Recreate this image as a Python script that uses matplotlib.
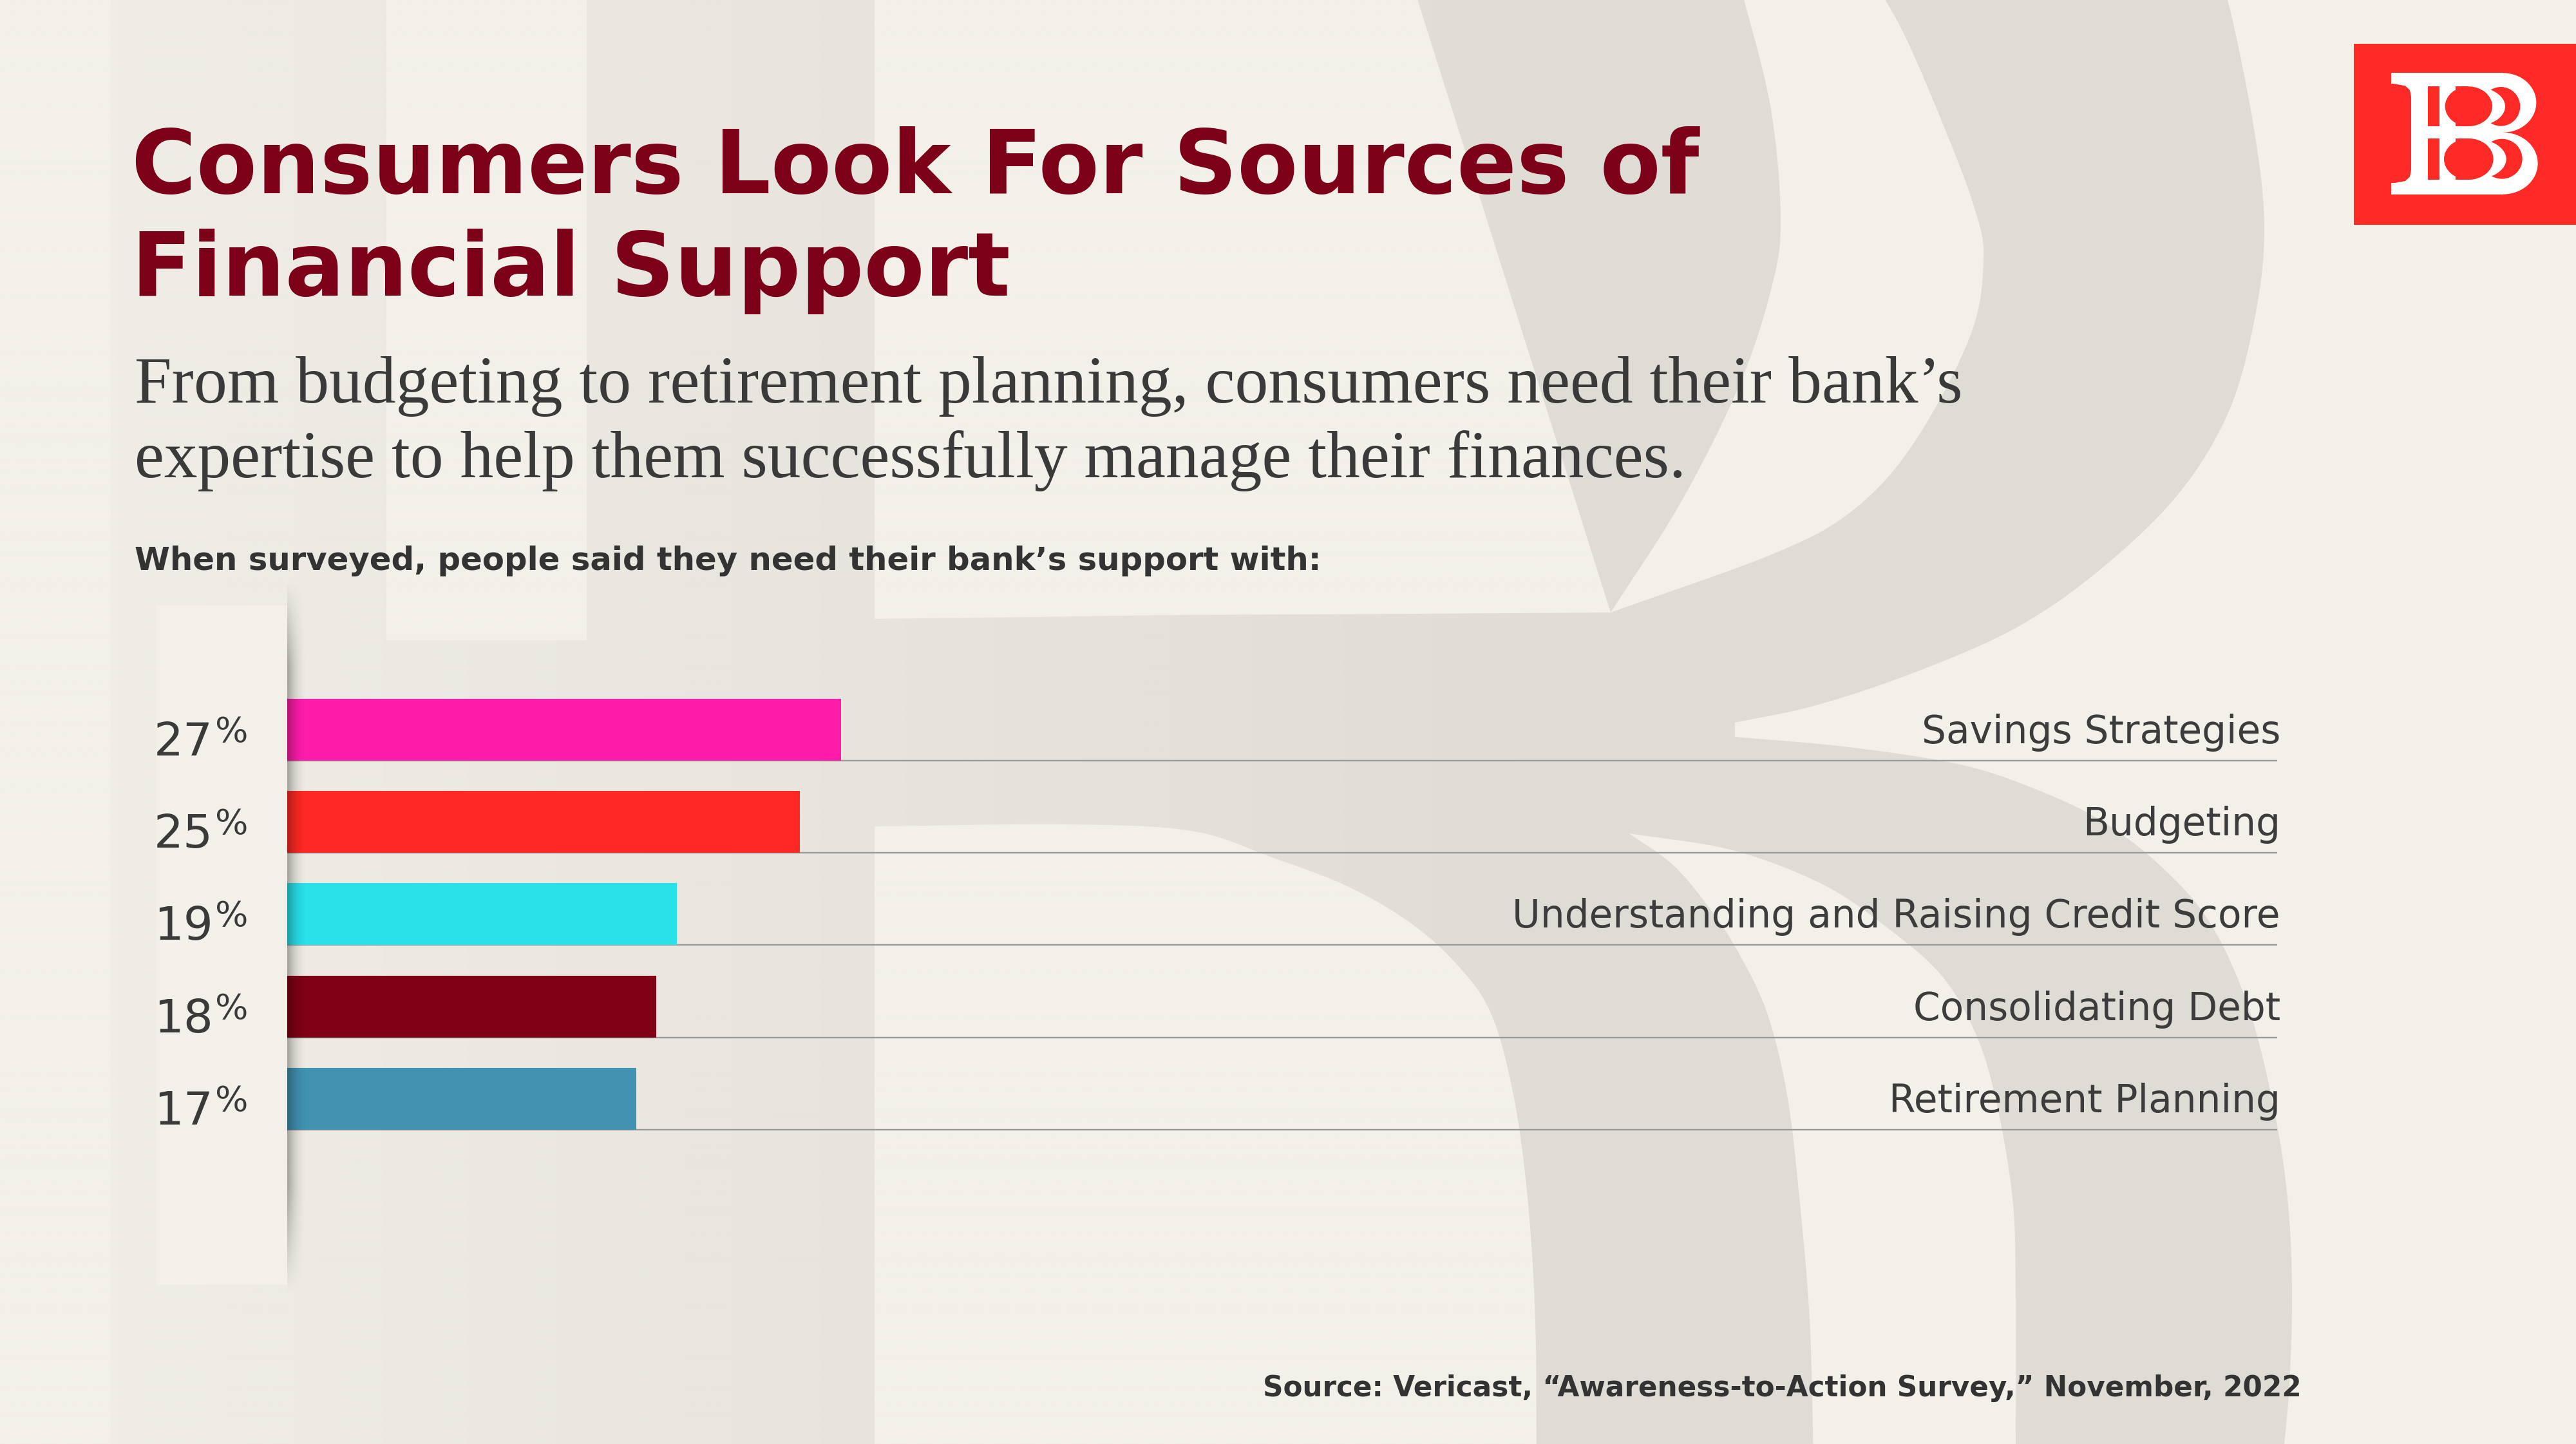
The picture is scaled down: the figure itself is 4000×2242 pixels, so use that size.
import matplotlib
matplotlib.use('Agg')
import matplotlib.pyplot as plt
import matplotlib.transforms as mtrans
import numpy as np
from matplotlib.patches import Rectangle, Ellipse, Polygon

# ---------------- data ----------------
categories = ["Savings Strategies", "Budgeting", "Understanding and Raising Credit Score",
              "Consolidating Debt", "Retirement Planning"]
values = [27, 25, 19, 18, 17]
bar_colors = ["#ff1cab", "#ff2824", "#28e1e9", "#7f0015", "#4191b1"]

title_lines = ["Consumers Look For Sources of", "Financial Support"]
subtitle_lines = ["From budgeting to retirement planning, consumers need their bank\u2019s",
                  "expertise to help them successfully manage their finances."]
heading = "When surveyed, people said they need their bank\u2019s support with:"
source = "Source: Vericast, \u201cAwareness-to-Action Survey,\u201d November, 2022"

# ---------------- figure ----------------
W, H = 4000, 2242
DPI = 100
BG = "#f2f0e9"
WM = "#dfdcd5"
fig = plt.figure(figsize=(W / DPI, H / DPI), dpi=DPI)
fig.patch.set_facecolor(BG)
renderer = fig.canvas.get_renderer()

ax_bg = fig.add_axes([0, 0, 1, 1], zorder=0)
ax_bg.axis('off')


def smooth(pts, n=10):
    """Catmull-Rom through an open chain of points."""
    p = np.asarray(pts, float)
    p = np.vstack([p[0] * 2 - p[1], p, p[-1] * 2 - p[-2]])
    out = []
    for i in range(1, len(p) - 2):
        p0, p1, p2, p3 = p[i - 1], p[i], p[i + 1], p[i + 2]
        for t in np.linspace(0, 1, n, endpoint=False):
            t2, t3 = t * t, t * t * t
            out.append(0.5 * ((2 * p1) + (-p0 + p2) * t + (2 * p0 - 5 * p1 + 4 * p2 - p3) * t2
                              + (-p0 + 3 * p1 - 3 * p2 + p3) * t3))
    out.append(p[-2])
    return np.array(out)


def wpoly(pts, c, z):
    ax_bg.add_patch(Polygon(pts, closed=True, facecolor=c, edgecolor='none', zorder=z))


# ---- watermark: huge faint logo letterform ----
outer_up = smooth([(3440, -20), (3459, 0), (3500, 200), (3516, 357), (3500, 500), (3459, 643),
                   (3380, 770), (3259, 886), (3130, 975), (2973, 1044), (2820, 1095), (2694, 1122)])
outer_lo = smooth([(2694, 1144), (2870, 1160), (3044, 1187), (3160, 1225), (3259, 1272), (3350, 1340),
                   (3430, 1430), (3490, 1560), (3530, 1716), (3552, 1860), (3559, 2002), (3555, 2150),
                   (3545, 2262)])
sil = np.vstack([[[172, -20]], outer_up, outer_lo, [[172, 2262]]])
wpoly(sil, WM, 0.5)
wpoly([(600, -20), (911, -20), (911, 994), (600, 994)], BG, 0.55)
wpoly(np.vstack([[[1358, -20], [2195, -20]], [[2501, 951]],
                 smooth([(2501, 951), (2200, 953), (1829, 955), (1600, 958), (1358, 961)])]), BG, 0.55)
up_sl = np.vstack([smooth([(2916, -20), (2960, 60), (3020, 200), (3065, 320), (3080, 400), (3060, 520),
                           (2973, 686), (2880, 790), (2758, 858), (2501, 951)]),
                   smooth([(2501, 951), (2610, 780), (2700, 600), (2750, 450), (2765, 343), (2750, 170),
                           (2708, 0), (2700, -20)])])
wpoly(up_sl, BG, 0.55)
lo_c = np.vstack([smooth([(1358, 1283), (1659, 1280), (1850, 1290), (1972, 1330), (2090, 1375),
                          (2186, 1430), (2260, 1495), (2315, 1573), (2350, 1700), (2372, 1859),
                          (2384, 2050), (2386, 2262)]), [[1358, 2262]]])
wpoly(lo_c, BG, 0.55)
lo_s = np.vstack([smooth([(2530, 1294), (2690, 1320), (2830, 1373), (2930, 1440), (3016, 1516),
                          (3070, 1610), (3101, 1716), (3125, 1860), (3130, 2002), (3130, 2262)]),
                  smooth([(2816, 2262), (2810, 2050), (2794, 1859), (2775, 1700), (2744, 1573),
                          (2700, 1480), (2658, 1415), (2600, 1345), (2530, 1294)])])
wpoly(lo_s, BG, 0.55)

# fade the watermark towards the left
nx = 400
alpha = np.clip(0.92 * (1 - np.linspace(0, W, nx) / 2500.0), 0, 1)
grad = np.zeros((2, nx, 4))
grad[..., :3] = matplotlib.colors.to_rgb(BG)
grad[..., 3] = alpha[None, :]
ax_bg.imshow(grad, extent=(0, W, H, 0), aspect='auto', zorder=0.8, interpolation='bilinear')
ax_bg.add_patch(Rectangle((243, 940), 446 - 243, 1995 - 940, facecolor=BG, edgecolor='none', zorder=0.9))


# ---- small logo ----
def draw_logo(ax, tx, ty, s, fg, bg, z):
    def P(x, y):
        return (tx + x * s, ty + y * s)

    def rect(x0, y0, x1, y1, c):
        ax.add_patch(Rectangle(P(x0, y0), (x1 - x0) * s, (y1 - y0) * s,
                               facecolor=c, edgecolor='none', zorder=z))

    def ell(cx, cy, w, h, c):
        ax.add_patch(Ellipse(P(cx, cy), w * s, h * s, facecolor=c, edgecolor='none', zorder=z))

    def poly(pts, c):
        ax.add_patch(Polygon([P(x, y) for x, y in pts], closed=True,
                             facecolor=c, edgecolor='none', zorder=z))

    rect(340, 220, 860, 270, fg)
    rect(433, 220, 860, 283, fg)
    rect(340, 733, 860, 785, fg)
    rect(433, 717, 860, 785, fg)
    poly([(340, 268), (433, 268), (433, 335), (426, 300), (405, 280)], fg)
    poly([(340, 735), (433, 735), (433, 668), (426, 703), (405, 723)], fg)
    rect(433, 220, 510, 785, fg)
    rect(510, 468, 640, 525, fg)
    rect(563, 220, 640, 785, fg)
    rect(640, 220, 860, 497, fg)
    ell(860, 358.5, 310, 277, fg)
    rect(640, 497, 860, 785, fg)
    ell(860, 641, 324, 288, fg)
    ell(850, 376, 180, 182, bg)
    ell(855, 620, 190, 186, bg)
    rect(640, 283, 720, 468, fg)
    ell(720, 376, 300, 186, fg)
    rect(640, 525, 720, 717, fg)
    ell(720, 621, 310, 192, fg)
    rect(640, 283, 700, 468, bg)
    ell(700, 375.5, 220, 185, bg)
    rect(640, 525, 700, 717, bg)
    ell(700, 621, 230, 192, bg)
    rect(510, 283, 563, 468, bg)
    rect(510, 525, 563, 717, bg)


ax_bg.add_patch(Rectangle((3655, 68), 400, 281, facecolor="#ff2a26", edgecolor='none', zorder=2))
draw_logo(ax_bg, 3600, 40, 1 / 3.0, "white", "#ff2a26", 2.1)

ax_bg.set_xlim(0, W)
ax_bg.set_ylim(H, 0)


def fit(t, target_w):
    bb = t.get_window_extent(renderer)
    t.set_fontsize(t.get_fontsize() * target_w / bb.width)
    return t.get_fontsize()


# title
t1 = ax_bg.text(204, 300, title_lines[0], fontsize=100, fontweight='bold', color="#7b0018",
                family='DejaVu Sans', va='baseline', ha='left', zorder=3)
fs = fit(t1, 2436)
ax_bg.text(204, 459, title_lines[1], fontsize=fs, fontweight='bold', color="#7b0018",
           family='DejaVu Sans', va='baseline', ha='left', zorder=3)

# subtitle
s1 = ax_bg.text(209, 625, subtitle_lines[0], fontsize=70, color="#3a3a3a",
                family='Liberation Serif', va='baseline', ha='left', zorder=3)
fs = fit(s1, 2839)
ax_bg.text(209, 741, subtitle_lines[1], fontsize=fs, color="#3a3a3a",
           family='Liberation Serif', va='baseline', ha='left', zorder=3)

# heading
h1 = ax_bg.text(209, 885, heading, fontsize=40, fontweight='bold', color="#333333",
                family='DejaVu Sans', va='baseline', ha='left', zorder=3)
fit(h1, 1839)

# source
src = ax_bg.text(3574, 2168, source, fontsize=30, fontweight='bold', color="#333333",
                 family='DejaVu Sans', va='baseline', ha='right', zorder=3)
fit(src, 1610)

# ---------------- bars ----------------
left_px, right_px = 446, 3536
top_px, bot_px = 1000, 1850
ax = fig.add_axes([left_px / W, 1 - bot_px / H, (right_px - left_px) / W, (bot_px - top_px) / H], zorder=1)
ax.patch.set_alpha(0)
ax.axis('off')
ypos = np.arange(len(values))
bar_h = 0.67
ax.barh(ypos, values, height=bar_h, color=bar_colors, linewidth=0, zorder=2)
ax.hlines(ypos + bar_h / 2, 0, 97, color="#9b9b9b", lw=1.7, zorder=1)
ax.set_xlim(0, 97)
ax.set_ylim(5.005, -0.928)

row_px = (bot_px - top_px) / (5.005 + 0.928)
blend_left = mtrans.blended_transform_factory(ax_bg.transData, ax.transData)
for y, v in zip(ypos, values):
    tn = ax.text(0, y + 40 / row_px, str(v), transform=blend_left, fontsize=52, color="#3a3a3a",
                 ha='left', va='baseline', family='DejaVu Sans')
    tp = ax.text(0, y + 19 / row_px, "%", transform=blend_left, fontsize=39, color="#3a3a3a",
                 ha='left', va='baseline', family='DejaVu Sans')
    wn = tn.get_window_extent(renderer).width
    wp = tp.get_window_extent(renderer).width
    x0 = 312 - (wn + 3 + wp) / 2
    tn.set_x(x0)
    tp.set_x(x0 + wn + 3)

lab = []
for y, c in zip(ypos, categories):
    lab.append(ax.text(3541, y + 21 / row_px, c, transform=blend_left, fontsize=37, color="#3c3c3c",
                       ha='right', va='baseline', family='DejaVu Sans'))
fs = fit(lab[2], 1194)
for t in lab:
    t.set_fontsize(fs)

# left shadow overlay
ax_ov = fig.add_axes([0, 0, 1, 1], zorder=3)
ax_ov.axis('off')
sx = np.linspace(0, 1, 60)
sy = np.linspace(0, 1, 200)
ax_prof = 0.32 * (1 - sx) ** 2
y_prof = np.clip(np.minimum(sy / 0.12, (1 - sy) / 0.15), 0, 1)
sh = np.zeros((len(sy), len(sx), 4))
sh[..., 3] = y_prof[:, None] * ax_prof[None, :]
ax_ov.imshow(sh, extent=(446, 478, 2010, 900), aspect='auto', interpolation='bilinear')
ax_ov.set_xlim(0, W)
ax_ov.set_ylim(H, 0)

fig.savefig("out.png", dpi=DPI, facecolor=BG)
